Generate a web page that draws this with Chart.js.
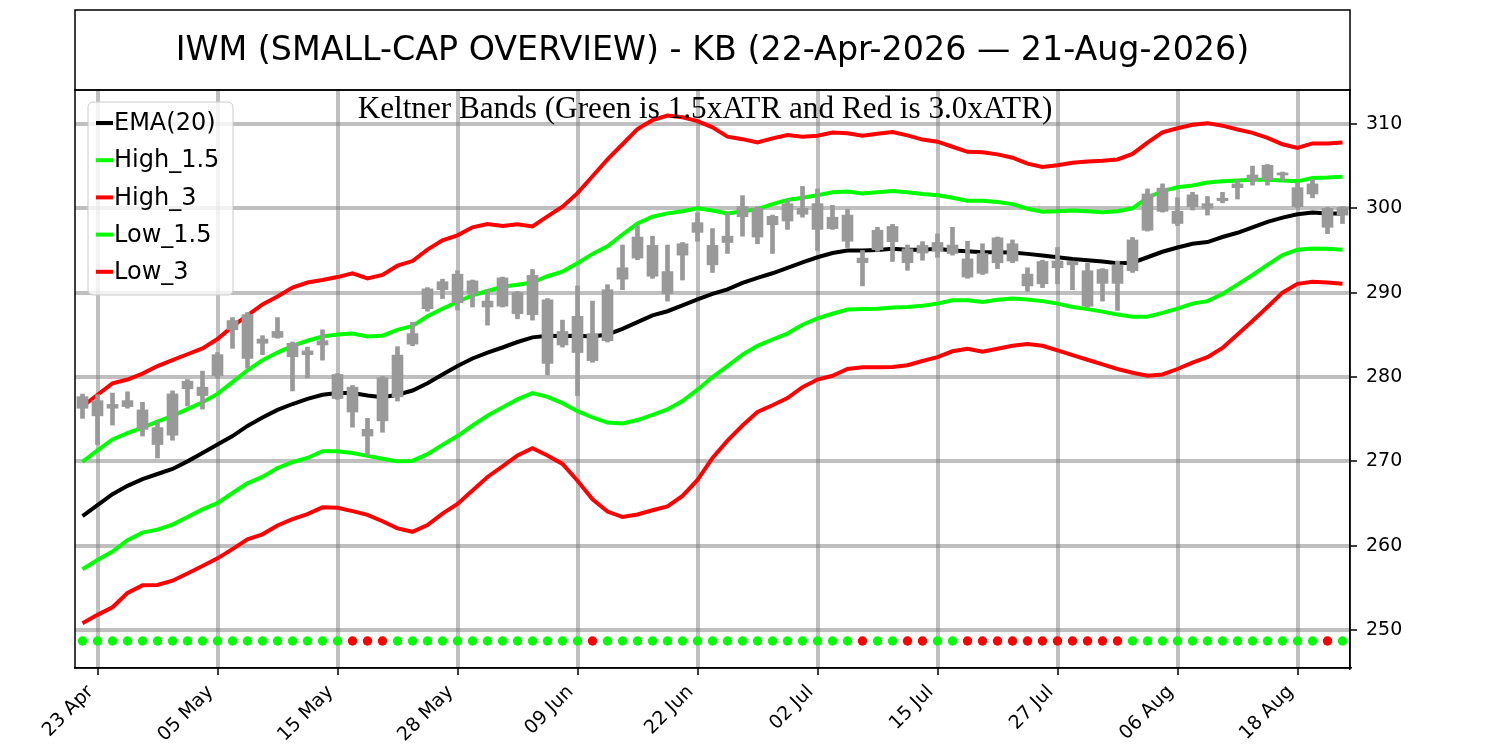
<!DOCTYPE html>
<html lang="en">
<head>
    <meta charset="UTF-8">
    <title>IWM Keltner Bands</title>
    <style>
        body {
            margin: 0;
            background-color: #ffffff;
        }
        #wrap {
            width: 1500px;
            height: 750px;
        }
    </style>
</head>
<body>
    <div id="wrap"><canvas id="kb-chart" width="1500" height="750"></canvas></div>

    <script src="https://cdn.jsdelivr.net/npm/chart.js"></script>
    <script>
        // trading days shown on the x axis
        const dates = [
            '22 Apr', '23 Apr', '24 Apr', '27 Apr', '28 Apr', '29 Apr', '30 Apr',
            '01 May', '04 May', '05 May', '06 May', '07 May', '08 May', '11 May', '12 May', '13 May', '14 May',
            '15 May', '18 May', '19 May', '20 May', '21 May', '22 May', '26 May', '27 May', '28 May', '29 May',
            '01 Jun', '02 Jun', '03 Jun', '04 Jun', '05 Jun', '08 Jun', '09 Jun', '10 Jun', '11 Jun', '12 Jun',
            '15 Jun', '16 Jun', '17 Jun', '18 Jun', '22 Jun', '23 Jun', '24 Jun', '25 Jun', '26 Jun', '29 Jun', '30 Jun',
            '01 Jul', '02 Jul', '06 Jul', '07 Jul', '08 Jul', '09 Jul', '10 Jul', '13 Jul', '14 Jul', '15 Jul',
            '16 Jul', '17 Jul', '20 Jul', '21 Jul', '22 Jul', '23 Jul', '24 Jul', '27 Jul', '28 Jul', '29 Jul', '30 Jul', '31 Jul',
            '03 Aug', '04 Aug', '05 Aug', '06 Aug', '07 Aug', '10 Aug', '11 Aug', '12 Aug', '13 Aug', '14 Aug',
            '17 Aug', '18 Aug', '19 Aug', '20 Aug', '21 Aug'
        ];
        const tickDates = ['23 Apr', '05 May', '15 May', '28 May', '09 Jun', '22 Jun', '02 Jul', '15 Jul', '27 Jul', '06 Aug', '18 Aug'];
        const priceTicks = [250, 260, 270, 280, 290, 300, 310];

        // candles (body top / body bottom / wick top / wick bottom)
        const bodyHigh = [
            277.67, 277.2, 276.75, 277.2, 276.1, 274.0, 278.0, 279.5, 278.8, 282.65,
            286.7, 287.4, 284.5, 285.4, 284.0, 283.1, 284.3, 280.3, 278.8, 273.8,
            279.9, 282.6, 285.15, 290.45, 291.3, 292.2, 291.4, 289.0, 291.75, 290.0,
            292.05, 289.15, 285.4, 287.2, 285.15, 290.35, 292.95, 296.6, 295.6, 292.5,
            295.8, 298.3, 295.6, 296.7, 300.2, 300.0, 299.05, 300.55, 300.0, 300.55,
            298.95, 299.2, 294.1, 297.4, 297.85, 295.2, 295.6, 295.95, 295.65, 294.0,
            294.65, 296.5, 295.8, 292.2, 293.7, 293.75, 293.7, 292.6, 292.75, 293.3,
            296.25, 301.7, 302.4, 299.65, 301.6, 300.55, 301.2, 302.9, 303.95, 305.1,
            304.2, 302.45, 302.9, 300.0, 300.1
        ];
        const bodyLow = [
            276.3, 275.4, 276.3, 276.5, 273.8, 272.0, 273.1, 278.6, 277.8, 280.15,
            285.6, 282.2, 284.0, 284.7, 282.4, 282.65, 283.8, 277.45, 275.85, 273.0,
            274.8, 277.65, 283.9, 288.1, 290.35, 288.8, 289.9, 288.3, 288.4, 287.5,
            287.4, 281.6, 283.8, 282.9, 281.95, 284.3, 291.6, 294.1, 291.95, 289.9,
            294.45, 297.15, 293.3, 295.95, 299.0, 296.6, 298.05, 298.5, 299.3, 297.5,
            297.6, 296.1, 293.55, 295.1, 296.05, 293.55, 294.7, 294.9, 294.65, 291.85,
            292.3, 293.55, 293.75, 290.8, 291.05, 292.95, 293.3, 288.4, 291.1, 291.1,
            292.6, 297.4, 299.65, 298.2, 300.2, 300.0, 300.9, 302.45, 303.3, 303.4,
            303.95, 300.2, 301.7, 297.75, 299.2
        ];
        const wickHigh = [
            277.98, 277.9, 278.1, 278.25, 277.0, 274.7, 278.35, 279.7, 280.7, 282.9,
            287.05, 287.65, 284.9, 287.05, 284.15, 283.55, 285.6, 280.4, 279.0, 275.1,
            280.05, 283.6, 286.5, 290.6, 291.6, 292.6, 291.5, 290.35, 291.85, 290.15,
            292.75, 289.3, 286.75, 290.8, 289.0, 290.95, 295.65, 297.95, 296.7, 295.65,
            295.95, 299.45, 297.6, 299.45, 301.5, 300.2, 299.2, 301.0, 302.6, 302.3,
            300.35, 299.9, 295.0, 297.75, 298.1, 295.65, 296.05, 296.95, 297.75, 296.1,
            295.8, 296.6, 296.25, 292.95, 293.85, 295.35, 293.75, 293.5, 292.85, 293.75,
            296.55, 302.3, 302.9, 301.25, 301.9, 301.4, 301.9, 303.4, 305.0, 305.2,
            304.3, 303.05, 303.4, 300.1, 300.2
        ];
        const wickLow = [
            275.1, 272.0, 274.3, 276.3, 273.0, 270.4, 272.5, 276.55, 276.2, 279.9,
            283.4, 281.05, 282.65, 284.6, 278.35, 279.9, 282.0, 277.35, 274.05, 270.7,
            273.45, 277.15, 283.7, 287.8, 289.3, 287.95, 288.3, 286.15, 288.3, 286.9,
            286.75, 280.25, 283.55, 277.8, 281.75, 284.15, 290.35, 293.9, 291.7, 289.0,
            291.5, 296.1, 292.4, 294.65, 296.7, 295.8, 294.65, 297.5, 298.95, 295.0,
            297.5, 295.35, 290.8, 294.9, 293.7, 292.65, 293.85, 294.2, 294.45, 291.7,
            292.15, 292.85, 293.55, 290.15, 290.6, 291.05, 290.35, 288.25, 289.0, 287.9,
            292.4, 297.3, 299.55, 297.95, 299.8, 299.2, 300.65, 301.1, 302.75, 302.75,
            303.3, 300.1, 301.25, 297.0, 298.2
        ];

        // EMA(20) and Keltner bands
        const ema20 = [
            263.5, 264.8, 266.1, 267.1, 267.9, 268.5, 269.1, 270.0, 271.0, 272.0,
            273.0, 274.2, 275.2, 276.1, 276.8, 277.4, 277.9, 278.1, 278.1, 277.8,
            277.6, 277.9, 278.4, 279.25, 280.3, 281.3, 282.2, 282.9, 283.5, 284.15,
            284.7, 284.9, 284.85, 284.9, 284.8, 285.05, 285.7, 286.5, 287.3, 287.8,
            288.5, 289.2, 289.85, 290.4, 291.15, 291.75, 292.3, 292.95, 293.6, 294.2,
            294.7, 295.0, 295.0, 295.05, 295.2, 295.1, 295.1, 295.2, 295.0, 294.9,
            294.8, 294.8, 294.75, 294.6, 294.4, 294.2, 294.0, 293.85, 293.7, 293.5,
            293.55, 294.2, 294.85, 295.35, 295.8, 296.0, 296.6, 297.1, 297.75, 298.4,
            298.9, 299.3, 299.5, 299.4, 299.4
        ];
        const high15 = [
            269.95, 271.3, 272.6, 273.35, 274.0, 274.7, 275.4, 276.2, 277.0, 278.0,
            279.4, 280.8, 282.0, 282.9, 283.7, 284.3, 284.8, 285.05, 285.15, 284.8,
            284.9, 285.6, 286.05, 287.2, 288.1, 288.9, 289.7, 290.2, 290.7, 290.95,
            291.2, 291.95, 292.5, 293.5, 294.6, 295.5, 296.9, 298.2, 299.0, 299.4,
            299.65, 300.0, 299.75, 299.4, 299.65, 299.9, 300.5, 301.0, 301.25, 301.55,
            301.9, 302.0, 301.75, 301.9, 302.05, 301.9, 301.7, 301.55, 301.25, 300.9,
            300.9, 300.75, 300.5, 299.95, 299.6, 299.65, 299.75, 299.65, 299.55, 299.65,
            300.0, 301.25, 302.05, 302.5, 302.7, 303.05, 303.2, 303.3, 303.4, 303.4,
            303.3, 303.2, 303.6, 303.65, 303.75
        ];
        const high3 = [
            276.5, 277.9, 279.25, 279.7, 280.4, 281.3, 282.0, 282.7, 283.4, 284.5,
            286.0, 287.3, 288.6, 289.55, 290.6, 291.2, 291.5, 291.85, 292.3, 291.7,
            292.1, 293.2, 293.75, 295.1, 296.2, 296.8, 297.75, 298.15, 297.9, 298.1,
            297.85, 299.05, 300.2, 301.8, 303.8, 305.8, 307.6, 309.4, 310.45, 311.0,
            310.8, 310.35, 309.6, 308.5, 308.2, 307.8, 308.3, 308.7, 308.5, 308.6,
            309.0, 308.9, 308.6, 308.85, 309.05, 308.65, 308.15, 307.9, 307.3, 306.7,
            306.65, 306.4, 306.0, 305.3, 304.9, 305.1, 305.4, 305.55, 305.65, 305.8,
            306.45, 307.8, 309.0, 309.5, 309.9, 310.1, 309.8, 309.35, 308.95, 308.35,
            307.6, 307.15, 307.7, 307.7, 307.8
        ];
        const low15 = [
            257.2, 258.3, 259.3, 260.65, 261.55, 261.9, 262.5, 263.4, 264.3, 265.05,
            266.25, 267.4, 268.15, 269.2, 269.9, 270.4, 271.2, 271.2, 271.0, 270.65,
            270.3, 270.0, 270.05, 270.85, 271.95, 273.0, 274.25, 275.4, 276.4, 277.35,
            278.1, 277.65, 276.9, 275.95, 275.2, 274.6, 274.5, 274.9, 275.5, 276.15,
            277.15, 278.5, 280.0, 281.3, 282.65, 283.7, 284.45, 285.15, 286.2, 286.95,
            287.5, 288.0, 288.05, 288.1, 288.25, 288.3, 288.45, 288.7, 289.1, 289.1,
            288.9, 289.15, 289.3, 289.2, 289.0, 288.7, 288.3, 288.05, 287.75, 287.4,
            287.15, 287.15, 287.6, 288.1, 288.7, 289.0, 289.85, 290.95, 292.1, 293.3,
            294.45, 295.1, 295.25, 295.2, 295.1
        ];
        const low3 = [
            250.8, 251.8, 252.7, 254.4, 255.3, 255.35, 255.85, 256.7, 257.6, 258.5,
            259.6, 260.75, 261.35, 262.4, 263.15, 263.75, 264.55, 264.5, 264.1, 263.65,
            262.9, 262.05, 261.65, 262.45, 263.8, 264.95, 266.55, 268.15, 269.4, 270.7,
            271.55, 270.7, 269.7, 267.7, 265.5, 264.05, 263.4, 263.7, 264.2, 264.65,
            265.9, 267.8, 270.4, 272.45, 274.25, 275.85, 276.65, 277.5, 278.8, 279.7,
            280.15, 280.95, 281.15, 281.15, 281.2, 281.4, 281.9, 282.35, 283.05, 283.35,
            283.0, 283.35, 283.7, 283.9, 283.7, 283.15, 282.6, 282.05, 281.5, 280.95,
            280.5, 280.15, 280.3, 280.95, 281.7, 282.35, 283.45, 285.05, 286.65, 288.3,
            290.0, 291.05, 291.3, 291.2, 291.05
        ];

        // squeeze dots along the bottom (g = green, r = red)
        const squeeze = [
            'g', 'g', 'g', 'g', 'g', 'g', 'g', 'g', 'g', 'g',
            'g', 'g', 'g', 'g', 'g', 'g', 'g', 'g', 'r', 'r',
            'r', 'g', 'g', 'g', 'g', 'g', 'g', 'g', 'g', 'g',
            'g', 'g', 'g', 'g', 'r', 'g', 'g', 'g', 'g', 'g',
            'g', 'g', 'g', 'g', 'g', 'g', 'g', 'g', 'g', 'g',
            'g', 'g', 'r', 'g', 'g', 'r', 'r', 'g', 'g', 'r',
            'r', 'r', 'r', 'r', 'r', 'r', 'r', 'r', 'r', 'r',
            'g', 'g', 'g', 'g', 'g', 'g', 'g', 'g', 'g', 'g',
            'g', 'g', 'g', 'r', 'g'
        ];
        const dotLevel = 248.7;

        const GRID = 'rgba(128,128,128,0.5)';
        const CANDLE = '#999999';

        const legendItems = [
            { label: 'EMA(20)', color: '#000000' },
            { label: 'High_1.5', color: '#00ff00' },
            { label: 'High_3', color: '#ff0000' },
            { label: 'Low_1.5', color: '#00ff00' },
            { label: 'Low_3', color: '#ff0000' }
        ];

        Chart.defaults.font.family = "'DejaVu Sans', sans-serif";
        Chart.defaults.font.size = 19;
        Chart.defaults.color = '#000';

        // frame, title box, subtitle and legend, drawn by hand like the matplotlib figure
        const decorations = {
            id: 'decorations',
            afterDraw(chart) {
                const { ctx, chartArea: a } = chart;
                ctx.save();
                ctx.strokeStyle = '#000';
                ctx.lineWidth = 1.5;
                ctx.strokeRect(a.left, a.top, a.right - a.left, a.bottom - a.top);
                ctx.strokeRect(a.left, 10, a.right - a.left, a.top - 10);

                ctx.fillStyle = '#000';
                ctx.textAlign = 'center';
                ctx.textBaseline = 'middle';
                ctx.font = "33.3px 'DejaVu Sans'";
                ctx.fillText('IWM (SMALL-CAP OVERVIEW) - KB (22-Apr-2026 \u2014 21-Aug-2026)', (a.left + a.right) / 2, 51);

                ctx.font = "31.2px 'Liberation Serif'";
                ctx.fillText('Keltner Bands (Green is 1.5xATR and Red is 3.0xATR)', 705, 110);

                // legend
                const lx = 88, ly = 102, lw = 145, lh = 193;
                ctx.beginPath();
                ctx.roundRect(lx, ly, lw, lh, 5);
                ctx.fillStyle = 'rgba(255,255,255,0.8)';
                ctx.fill();
                ctx.strokeStyle = '#cccccc';
                ctx.lineWidth = 1;
                ctx.stroke();

                ctx.font = "24px 'DejaVu Sans'";
                ctx.textAlign = 'left';
                legendItems.forEach((item, i) => {
                    const y = 123 + i * 37.2;
                    ctx.strokeStyle = item.color;
                    ctx.lineWidth = 4;
                    ctx.beginPath();
                    ctx.moveTo(96, y);
                    ctx.lineTo(113, y);
                    ctx.stroke();
                    ctx.fillStyle = '#000';
                    ctx.fillText(item.label, 114, y + 1);
                });
                ctx.restore();
            }
        };

        function bandLine(data, color, order) {
            return {
                type: 'line',
                data: data,
                borderColor: color,
                borderWidth: 4,
                pointRadius: 0,
                tension: 0,
                fill: false,
                order: order
            };
        }

        const ctx = document.getElementById('kb-chart').getContext('2d');
        new Chart(ctx, {
            type: 'bar',
            data: {
                labels: dates,
                datasets: [
                    {
                        label: 'body',
                        data: bodyLow.map((lo, i) => [lo, bodyHigh[i]]),
                        backgroundColor: CANDLE,
                        barThickness: 11,
                        grouped: false,
                        order: 0
                    },
                    {
                        label: 'wick',
                        data: wickLow.map((lo, i) => [lo, wickHigh[i]]),
                        backgroundColor: CANDLE,
                        barThickness: 4,
                        grouped: false,
                        order: 1
                    },
                    bandLine(ema20, '#000000', 2),
                    bandLine(high15, '#00ff00', 2),
                    bandLine(high3, '#ff0000', 2),
                    bandLine(low15, '#00ff00', 2),
                    bandLine(low3, '#ff0000', 2),
                    {
                        type: 'line',
                        label: 'squeeze',
                        data: squeeze.map(() => dotLevel),
                        showLine: false,
                        pointRadius: 4.7,
                        pointBorderWidth: 0,
                        pointBackgroundColor: squeeze.map(s => s === 'r' ? '#ff0000' : '#00ff00'),
                        order: 2
                    }
                ]
            },
            options: {
                responsive: false,
                devicePixelRatio: 1,
                animation: false,
                layout: { padding: { left: 75, top: 90, right: 0, bottom: 0 } },
                plugins: {
                    legend: { display: false },
                    tooltip: { enabled: false },
                    title: { display: false }
                },
                scales: {
                    x: {
                        offset: true,
                        grid: { offset: false, color: GRID, lineWidth: 4, tickColor: '#000', tickWidth: 1.5, tickLength: 7 },
                        border: { color: '#000', width: 1.5 },
                        ticks: { autoSkip: false, minRotation: 45, maxRotation: 45, padding: 6, labelOffset: -7, font: { size: 19 } },
                        afterBuildTicks: s => { s.ticks = s.ticks.filter(t => tickDates.includes(dates[t.value])); },
                        afterFit: s => { s.height = 82; }
                    },
                    y: {
                        position: 'right',
                        min: 245.5,
                        max: 314.03,
                        grid: { color: GRID, lineWidth: 4, tickColor: '#000', tickWidth: 1.5, tickLength: 7 },
                        border: { color: '#000', width: 1.5 },
                        ticks: { padding: 9, font: { size: 19 } },
                        afterBuildTicks: s => { s.ticks = priceTicks.map(v => ({ value: v })); },
                        afterFit: s => { s.width = 150; }
                    }
                }
            },
            plugins: [decorations]
        });
    </script>
</body>
</html>
